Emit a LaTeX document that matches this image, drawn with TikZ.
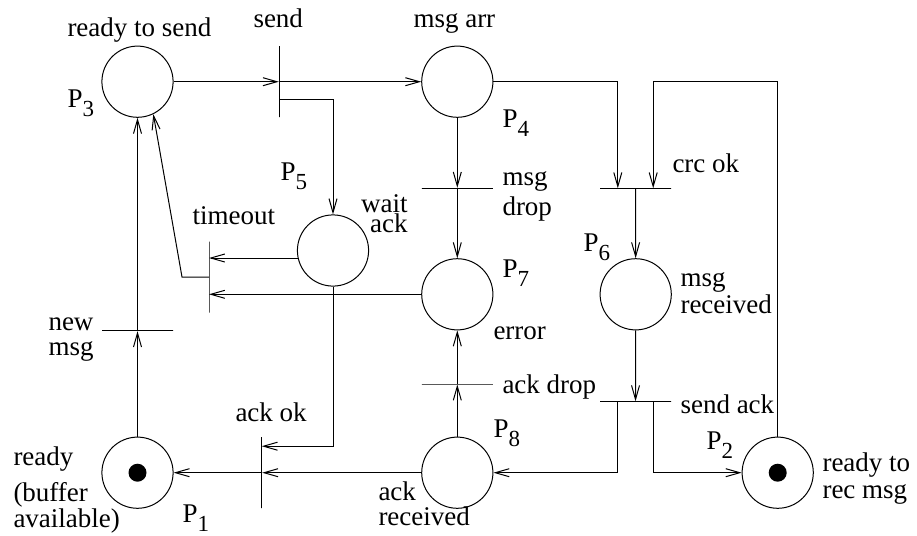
\documentclass[tikz,border=0pt]{standalone}
\usepackage{fontspec}
\setmainfont{Liberation Serif}
\usetikzlibrary{arrows.meta,calc}
\newcommand\PlaceLbl[1]{P\raisebox{-9pt}{\fontsize{23}{23}\selectfont #1}}
\begin{document}
\begin{tikzpicture}[x=1pt,y=-1pt,line width=1pt,
  every node/.style={font=\fontsize{27}{29}\selectfont},
  place/.style={circle,draw,minimum size=71.2pt,inner sep=0pt},
  token/.style={circle,fill,minimum size=18pt,inner sep=0pt},
  vtrans/.style={rectangle,draw,minimum width=0pt,minimum height=71pt,inner sep=0pt},
  htrans/.style={rectangle,draw,minimum width=71pt,minimum height=0pt,inner sep=0pt},
  lbl/.style={anchor=base west,inner sep=0pt},
  lblr/.style={anchor=base east,inner sep=0pt},
  arr/.style={-{Straight Barb[length=14pt,width=8pt]}}]
\useasboundingbox (0,0) rectangle (917,535);
% places
\node[place] (P3) at (137.5,81.7) {};
\node[place] (P4) at (457.3,81.7) {};
\node[place] (P5) at (333,250.5) {};
\node[place] (P7) at (457.3,294.3) {};
\node[place] (P6) at (635.7,294.3) {};
\node[place] (P1) at (137.5,472.7) {};
\node[place] (P8) at (457.3,472.7) {};
\node[place] (P2) at (777.7,472.7) {};
\node[token] (k1) at (P1) {};
\node[token] (k2) at (P2) {};
% transitions
\node[vtrans] (tSend) at (279.3,81.7) {};
\node[vtrans] (tTimeout) at (209,277) {};
\node[htrans] (tNew) at (137.5,330.7) {};
\node[vtrans] (tAckOk) at (261.7,472.7) {};
\node[htrans] (tMsgDrop) at (457.3,188.3) {};
\node[htrans] (tCrc) at (635.5,188.3) {};
\node[htrans] (tAckDrop) at (457.3,384) {};
\node[htrans] (tSendAck) at (635.5,401.7) {};
\coordinate (bendT) at (182,277);
% arcs
\draw[arr] (P3) -- (tSend);
\draw[arr] (tSend) -- (P4);
\draw[arr] ([yshift=-17.5pt]tSend.center) -| (P5.north);
\draw[arr] (P5.192) -- (P5.192 -| tTimeout.center);
\draw[arr] (P7.west) -- (P7.west -| tTimeout.center);
\draw[arr] (tTimeout.center) -- (bendT) -- (P3.-64);
\draw[arr] (P1) -- (tNew);
\draw[arr] (tNew) -- (P3);
\draw[arr] (P5.south) |- ([yshift=26.5pt]tAckOk.center);
\draw[arr] (P8) -- (tAckOk);
\draw[arr] (tAckOk) -- (P1);
\draw[arr] (P4) -- (tMsgDrop);
\draw[arr] (tMsgDrop) -- (P7);
\draw[arr] (P4.east) -| ([xshift=-17.7pt]tCrc.center);
\draw[arr] (P2.north) -- (P2.north |- P4.east) -| ([xshift=17.7pt]tCrc.center);
\draw[arr] (tCrc) -- (P6);
\draw[arr] (P6) -- (tSendAck);
\draw[arr] ([xshift=-17.7pt]tSendAck.center) |- (P8.east);
\draw[arr] ([xshift=17.7pt]tSendAck.center) |- (P2.west);
\draw[arr] (P8) -- (tAckDrop);
\draw[arr] (tAckDrop) -- (P7);
% labels
\node[lbl] (lRts) at (67,37) {ready to send};
\node[lbl] (lSend) at (253,28) {send};
\node[lbl] (lMsgArr) at (413,27.7) {msg arr};
\node[lbl] (lP3) at (67,107.5) {\PlaceLbl{3}};
\node[lbl] (lP4) at (502,127) {\PlaceLbl{4}};
\node[lbl] (lP5) at (280,180) {\PlaceLbl{5}};
\node[lbl] (lP6) at (583,251) {\PlaceLbl{6}};
\node[lbl] (lP7) at (502,277) {\PlaceLbl{7}};
\node[lbl] (lP8) at (493,437) {\PlaceLbl{8}};
\node[lbl] (lP2) at (706,449) {\PlaceLbl{2}};
\node[lbl] (lP1) at (182,522) {\PlaceLbl{1}};
\node[lbl] (lMd1) at (502,185) {msg};
\node[lbl] (lMd2) at (502,215) {drop};
\node[lbl] (lCrc) at (672,172) {crc ok};
\node[lbl] (lTimeout) at (192,224) {timeout};
\node[lblr] (lWait) at (408,212) {wait};
\node[lblr] (lAck) at (408,232) {ack};
\node[lbl] (lMr1) at (680,286) {msg};
\node[lbl] (lMr2) at (680,313) {received};
\node[lbl] (lError) at (493,339) {error};
\node[lbl] (lAckDrop) at (502,393) {ack drop};
\node[lbl] (lSendAck) at (680,413) {send ack};
\node[lbl] (lRr1) at (822,471) {ready to};
\node[lbl] (lRr2) at (822,498) {rec msg};
\node[lbl] (lReady) at (13,465) {ready};
\node[lbl] (lBuf1) at (13,501) {(buffer};
\node[lbl] (lBuf2) at (13,527) {available)};
\node[lbl] (lAckOk) at (235,421) {ack ok};
\node[lbl] (lNew1) at (48,330) {new};
\node[lbl] (lNew2) at (48,355) {msg};
\node[lbl] (lAr1) at (378,500) {ack};
\node[lbl] (lAr2) at (378,525) {received};
\end{tikzpicture}
\end{document}
